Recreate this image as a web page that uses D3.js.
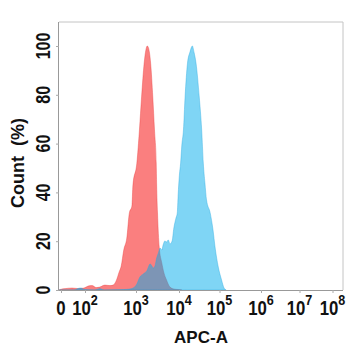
<!DOCTYPE html>
<html><head><meta charset="utf-8">
<script src="https://cdn.jsdelivr.net/npm/d3@7"></script>
<style>
html,body{margin:0;padding:0;background:#fff;}
svg{display:block;font-family:"Liberation Sans",Arial,Helvetica,sans-serif;}
</style>
</head><body>
<svg id="c" width="348" height="350"></svg>
<script>
// ---- data ----
const xTickDecades = [1.5, 2, 3, 4, 5, 6, 7, 8];
const xTickExp = [null, "2", "3", "4", "5", "6", "7", "8"];
const yTicks = [0, 20, 40, 60, 80, 100];

// control (red) histogram: x in log10(APC-A), y in % of max
const redX = [1.46,1.48,1.60,1.73,1.85,1.98,2.06,2.14,2.22,2.29,2.39,2.49,2.55,2.61,2.67,2.71,2.76,2.82,2.87,2.92,2.94,3.02,3.08,3.13,3.19,3.23,3.26,3.29,3.34,3.39,3.43,3.47,3.48,3.50,3.54,3.60,3.65,3.71,3.79,3.88,3.98,4.07];
const redY = [0,0.2,0.6,0.8,0.6,0.8,1.6,1.8,1.0,1.2,2.0,1.8,2.0,3.7,7.4,9.8,16.4,21.3,31.6,34.4,43.0,52.0,65.6,79.1,93.0,98.4,100,99.2,93.0,79.1,65.6,52.0,43.0,31.6,17.6,11.1,7.0,4.1,1.2,0.4,0.2,0];

// stained (blue) histogram
const blueX = [1.46,1.79,1.85,1.92,1.98,2.20,2.29,2.37,2.78,2.88,2.96,3.02,3.09,3.17,3.25,3.33,3.37,3.40,3.44,3.48,3.52,3.56,3.60,3.63,3.67,3.71,3.75,3.79,3.84,3.88,3.93,3.96,3.98,4.01,4.04,4.07,4.11,4.15,4.21,4.27,4.33,4.37,4.42,4.50,4.56,4.60,4.64,4.68,4.77,4.84,4.89,4.97,5.05,5.11,5.16];
const blueY = [0,0,0.6,0.8,0.2,0,0.6,0,0.2,0.4,1.0,2.5,5.3,6.6,7.8,10.7,9.8,9.0,9.8,13.1,15.2,17.2,16.4,18.4,20.1,19.7,20.5,18.9,20.1,25.4,29.5,31.6,38.9,47.1,52.0,59.4,65.6,79.1,93.0,97.5,100,97.5,93.0,79.1,65.6,52.0,43.9,36.9,31.6,24.6,17.6,9.4,4.1,0.8,0];

// ---- layout ----
const L = 59, R = 343, T = 22, B = 290;
const svg = d3.select("#c");

// biexponential-like display: piecewise linear in decades
const x = d3.scaleLinear()
  .domain(xTickDecades)
  .range([61, 85, 136, 179, 219.5, 261, 299.5, 332.5]);
const y = d3.scaleLinear().domain([0, 100]).range([B, 46]);

svg.append("clipPath").attr("id","clip").append("rect")
  .attr("x", L).attr("y", T).attr("width", R - L).attr("height", B - T);

const area = d3.area()
  .x(d => x(d[0])).y0(B).y1(d => y(d[1]))
  .curve(d3.curveMonotoneX);

const g = svg.append("g").attr("clip-path","url(#clip)");
const red = d3.zip(redX, redY);
const blue = d3.zip(blueX, blueY);
g.append("path").datum(red).attr("d", area)
  .attr("fill", "rgb(245,0,0)").attr("fill-opacity", 0.5)
  .attr("stroke", "rgb(235,60,60)").attr("stroke-opacity", 0.5).attr("stroke-width", 0.8);
g.append("path").datum(blue).attr("d", area)
  .attr("fill", "rgb(0,172,235)").attr("fill-opacity", 0.5)
  .attr("stroke", "rgb(40,170,225)").attr("stroke-opacity", 0.5).attr("stroke-width", 0.8);

// frame
svg.append("path")
  .attr("d", `M${L},${T}H${R}V${B}`)
  .attr("fill","none").attr("stroke","#c4c4c4").attr("stroke-width",1);

// axes
const xa = svg.append("g").attr("transform", `translate(0,${B})`)
  .call(d3.axisBottom(x).tickValues(xTickDecades).tickSize(3).tickFormat(""));
xa.select(".domain").attr("d", `M${L},0.5H${R}`).attr("stroke","#999");
xa.selectAll(".tick line").attr("stroke","#aaa");

const ya = svg.append("g").attr("transform", `translate(${L},0)`)
  .call(d3.axisLeft(y).tickValues(yTicks).tickSize(3).tickFormat(""));
ya.select(".domain").attr("d", `M-0.5,${T}V${B}`).attr("stroke","#999");
ya.selectAll(".tick line").attr("stroke","#aaa");

// x tick labels
xTickDecades.forEach((d, i) => {
  const t = svg.append("text")
    .attr("transform", `translate(${x(d)},315) scale(0.84,1)`)
    .attr("text-anchor", "middle")
    .attr("font-weight", "bold").attr("font-size", 20).attr("fill", "#111");
  if (xTickExp[i] === null) {
    t.text("0");
  } else {
    t.append("tspan").text("10");
    t.append("tspan").attr("dy", -10).attr("font-size", 15).text(xTickExp[i]);
  }
});

// y tick labels
yTicks.forEach(v => {
  svg.append("text")
    .attr("transform", `translate(50,${y(v)}) rotate(-90) scale(0.8,1)`)
    .attr("text-anchor", "middle")
    .attr("font-weight", "bold").attr("font-size", 20).attr("fill", "#111")
    .text(v);
});

// axis titles
svg.append("text")
  .attr("x", (L + R) / 2).attr("y", 342.5)
  .attr("text-anchor", "middle").attr("font-weight", "bold")
  .attr("font-size", 17).attr("fill", "#111").text("APC-A");

svg.append("text")
  .attr("transform", "translate(23.5,163) rotate(-90)")
  .attr("text-anchor", "middle").attr("font-weight", "bold")
  .attr("font-size", 18).attr("fill", "#111")
  .style("white-space", "pre").text("Count  (%)");
</script>
</body></html>
